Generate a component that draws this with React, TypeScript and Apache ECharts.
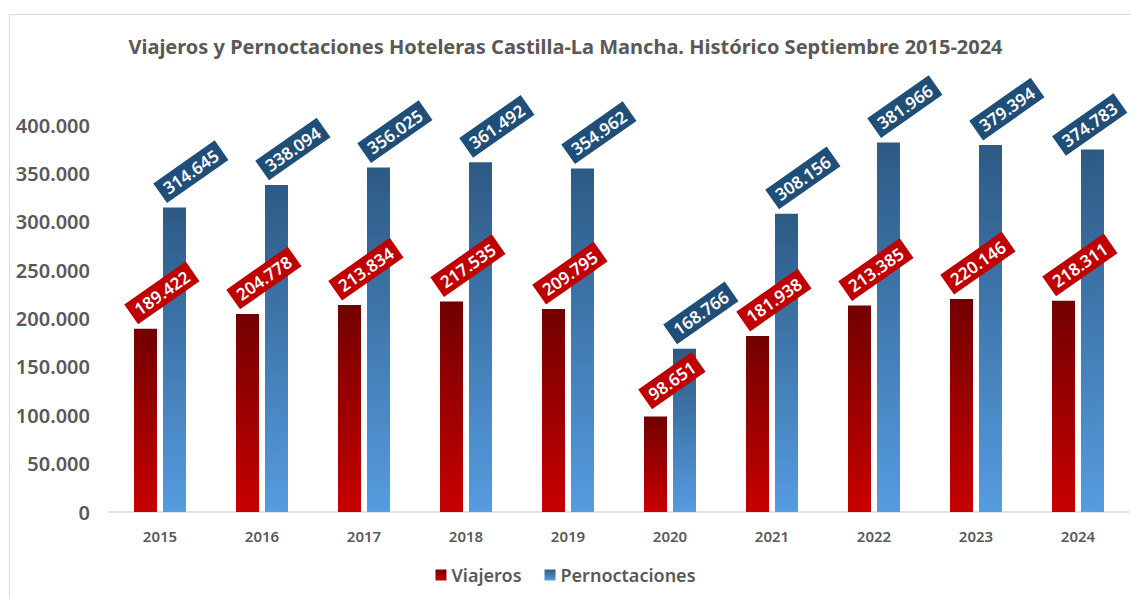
import React, { useEffect, useRef } from "react";
import * as echarts from "echarts";

const years = ["2015", "2016", "2017", "2018", "2019", "2020", "2021", "2022", "2023", "2024"];
const viajeros = [189422, 204778, 213834, 217535, 209795, 98651, 181938, 213385, 220146, 218311];
const pernoctaciones = [314645, 338094, 356025, 361492, 354962, 168766, 308156, 381966, 379394, 374783];
const yTicks = [0, 50000, 100000, 150000, 200000, 250000, 300000, 350000, 400000];

const TITLE = "Viajeros y Pernoctaciones Hoteleras Castilla-La Mancha. Histórico Septiembre 2015-2024";
const FONT = "'Noto Sans', sans-serif";
const GREY = "#595959";

function fmt(v: number): string {
  return String(Math.round(v)).replace(/\B(?=(\d{3})+(?!\d))/g, ".");
}

export default function App() {
  const ref = useRef<HTMLDivElement>(null);
  useEffect(() => {
    if (!ref.current) return;
    const chart = echarts.init(ref.current, null, { renderer: "svg" });
    const labelBase = {
      show: true,
      position: "top",
      distance: 0,
      rotate: 35,
      align: "center",
      verticalAlign: "middle",
      offset: [34, -20],
      color: "#ffffff",
      fontFamily: FONT,
      fontWeight: 600,
      fontSize: 17,
      padding: [4, 6, 3, 6],
      formatter: (p: any) => fmt(p.value),
    };
    const lastIdx = pernoctaciones.length - 1;
    const pernData = pernoctaciones.map((v, i) =>
      i === lastIdx ? { value: v, label: { offset: [12, -22] } } : v
    );
    chart.setOption({
      animation: false,
      backgroundColor: "#ffffff",
      title: {
        text: TITLE,
        left: "center",
        top: 31,
        textStyle: { color: GREY, fontFamily: FONT, fontWeight: 700, fontSize: 20 },
      },
      graphic: [
        {
          type: "rect",
          shape: { x: 9.5, y: 14.5, width: 1300, height: 700 },
          style: { fill: "none", stroke: "#d9d9d9", lineWidth: 1 },
          silent: true,
          z: -10,
        },
      ],
      legend: {
        bottom: 10,
        left: "center",
        icon: "rect",
        itemWidth: 11,
        itemHeight: 11,
        itemGap: 23,
        textStyle: { color: GREY, fontFamily: FONT, fontWeight: 600, fontSize: 18 },
        data: ["Viajeros", "Pernoctaciones"],
      },
      grid: { left: 109, right: 2, top: 125, bottom: 87, containLabel: false },
      xAxis: {
        type: "category",
        data: years,
        axisLine: { lineStyle: { color: "#d9d9d9", width: 1.5 } },
        axisTick: { show: false },
        axisLabel: { color: GREY, fontFamily: FONT, fontWeight: 600, fontSize: 15, margin: 16 },
      },
      yAxis: {
        type: "value",
        min: 0,
        max: 400000,
        interval: 50000,
        splitLine: { show: false },
        axisLine: { show: false },
        axisTick: { show: false },
        axisLabel: {
          color: GREY,
          fontFamily: FONT,
          fontWeight: 600,
          fontSize: 20,
          margin: 19,
          formatter: (v: number) => (yTicks.includes(v) ? fmt(v) : ""),
        },
      },
      series: [
        {
          name: "Viajeros",
          type: "bar",
          data: viajeros,
          barWidth: 23,
          barGap: "26%",
          z: 3,
          itemStyle: {
            color: new echarts.graphic.LinearGradient(0, 0, 0, 1, [
              { offset: 0, color: "#720000" },
              { offset: 1, color: "#c80000" },
            ]),
          },
          label: { ...labelBase, backgroundColor: "#c00000" },
        },
        {
          name: "Pernoctaciones",
          type: "bar",
          data: pernData,
          barWidth: 23,
          z: 2,
          itemStyle: {
            color: new echarts.graphic.LinearGradient(0, 0, 0, 1, [
              { offset: 0, color: "#2d5a84" },
              { offset: 1, color: "#559ce0" },
            ]),
          },
          label: { ...labelBase, backgroundColor: "#1f4e79" },
        },
      ],
    });
    return () => chart.dispose();
  }, []);
  return (
    <div
      ref={ref}
      style={{ position: "absolute", left: 0, top: 0, width: 1131, height: 599 }}
    />
  );
}
